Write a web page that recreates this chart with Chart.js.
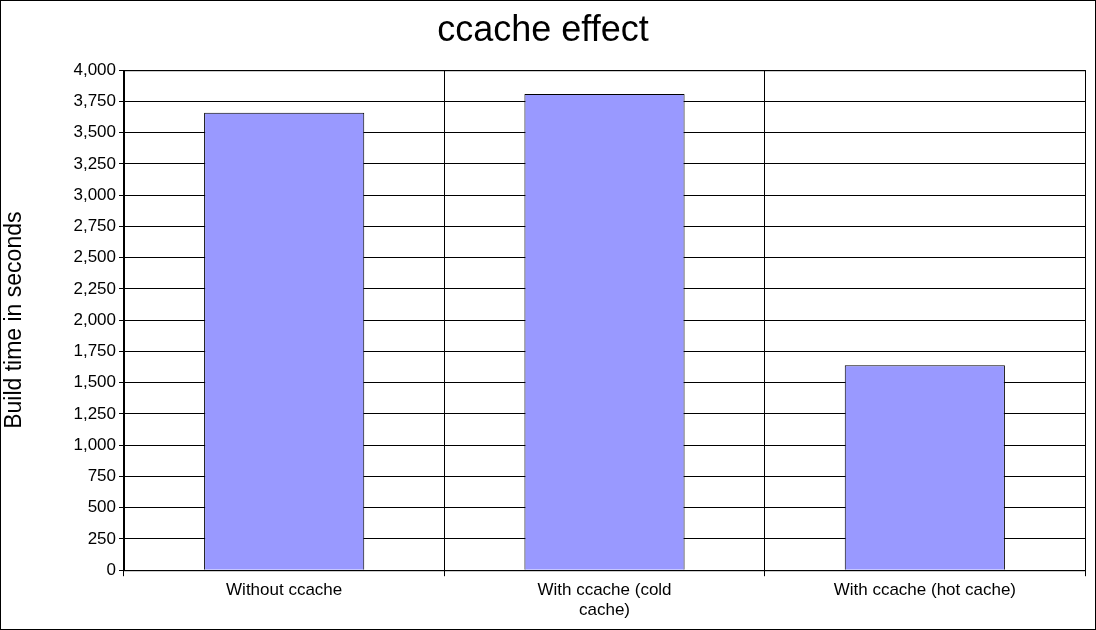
<!DOCTYPE html>
<html>
<head>
<meta charset="utf-8">
<script src="https://cdn.jsdelivr.net/npm/chart.js@4"></script>
<style>
  html, body { margin: 0; padding: 0; background: #fff; }
  #wrap { position: relative; width: 1094px; height: 628px; border: 1px solid #000; }
</style>
</head>
<body>
<div id="wrap"><canvas id="chart"></canvas></div>
<script>
const categories = ['Without ccache', ['With ccache (cold', 'cache)'], 'With ccache (hot cache)'];
const buildSeconds = [3660, 3810, 1640];
const yTicks = [0, 250, 500, 750, 1000, 1250, 1500, 1750, 2000, 2250, 2500, 2750, 3000, 3250, 3500, 3750, 4000];

const font = 'Liberation Sans, Arial, sans-serif';

new Chart(document.getElementById('chart').getContext('2d'), {
    type: 'bar',
    data: {
        labels: categories,
        datasets: [{
            data: buildSeconds,
            backgroundColor: '#9999ff',
            borderColor: '#000',
            borderWidth: 1,
            categoryPercentage: 1,
            barPercentage: 0.5
        }]
    },
    options: {
        responsive: true,
        maintainAspectRatio: false,
        animation: false,
        layout: { padding: { left: 0, right: 10, top: 0, bottom: 4 } },
        plugins: {
            legend: { display: false },
            tooltip: { enabled: false },
            title: {
                display: true,
                text: 'ccache effect',
                color: '#000',
                font: { family: font, size: 36, weight: 'normal' },
                padding: { top: 8, bottom: 18 }
            }
        },
        scales: {
            y: {
                min: 0,
                max: 4000,
                afterBuildTicks: axis => { axis.ticks = yTicks.map(v => ({ value: v })); },
                afterFit: axis => { axis.width = 123; },
                grid: { color: '#000', lineWidth: 1, tickLength: 5, drawTicks: true },
                border: { color: '#000' },
                ticks: { color: '#000', font: { family: font, size: 17 }, padding: 3 },
                title: {
                    display: true,
                    text: 'Build time in seconds',
                    color: '#000',
                    font: { family: font, size: 23 },
                    padding: { top: 0, bottom: 6 }
                }
            },
            x: {
                grid: { offset: true, color: '#000', lineWidth: 1, tickLength: 6 },
                border: { color: '#000' },
                ticks: { color: '#000', font: { family: font, size: 17 }, maxRotation: 0, padding: 4 }
            }
        }
    },
    plugins: [{
        id: 'frame',
        afterDraw(chart) {
            const { ctx, chartArea: a } = chart;
            ctx.save();
            ctx.strokeStyle = '#000';
            ctx.lineWidth = 1;
            ctx.strokeRect(a.left + 0.5, a.top + 0.5, a.right - a.left, a.bottom - a.top);
            ctx.restore();
        }
    }]
});
</script>
</body>
</html>
